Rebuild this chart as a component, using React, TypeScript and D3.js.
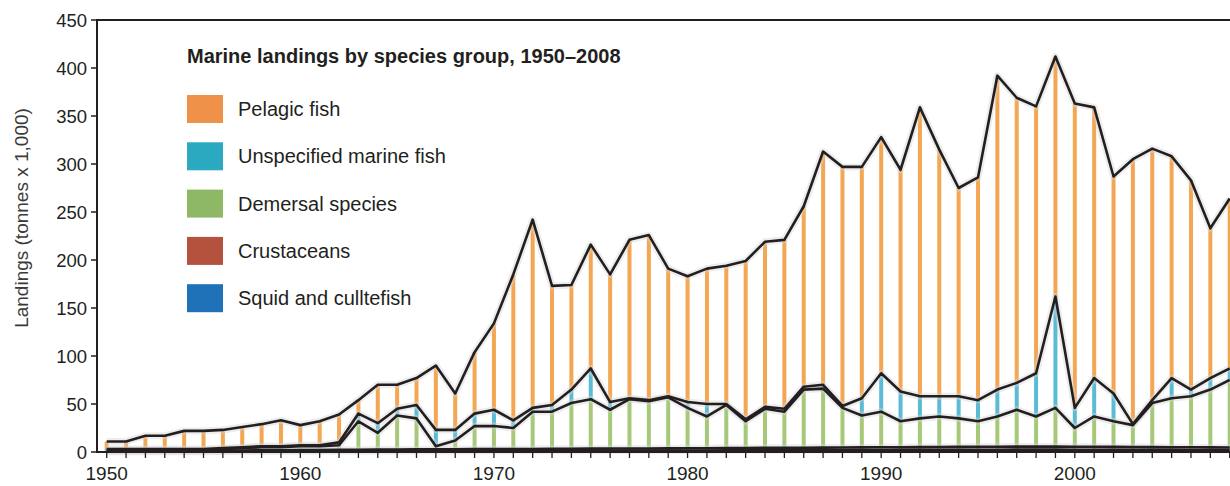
import React, { useEffect, useRef } from 'react';
import * as d3 from 'd3';

const years = d3.range(1950, 2009);

// thousand tonnes
const pelagic = [
  8, 8, 14, 14, 19, 19, 19, 21, 23, 27,
  21, 25, 29, 14, 40, 25, 28, 67, 38, 64,
  90, 152, 196, 124, 109, 129, 133, 165, 172, 133,
  131, 141, 144, 165, 172, 176, 188, 243, 249, 241,
  246, 231, 301, 257, 217, 232, 327, 297, 278, 250,
  317, 282, 226, 276, 262, 231, 218, 156, 177,
];
const unspecified = [
  1, 1, 1, 1, 1, 1, 1, 1, 1, 1,
  1, 1, 3, 8, 10, 7, 14, 17, 11, 13,
  17, 8, 4, 7, 14, 32, 8, 1, 1, 1,
  6, 13, 1, 2, 2, 3, 3, 4, 2, 18,
  40, 31, 23, 21, 23, 22, 28, 28, 45, 116,
  21, 40, 29, 1, 3, 21, 7, 12, 12,
];
const demersal = [
  1.2, 1.2, 1.2, 1.2, 1.1, 1.1, 1.9, 2.5, 3.2, 3.1,
  3.9, 3.9, 4.7, 29.6, 17.5, 35.4, 32.3, 3.2, 9.2, 24,
  24, 21.8, 38.8, 38.7, 47.6, 51.5, 40.4, 51.3, 49.3, 53.2,
  42.1, 33.1, 44.9, 27.9, 40.7, 37.7, 60.5, 61.4, 41.3, 33.2,
  37.1, 27, 29.9, 31.8, 29.7, 26.6, 31.6, 38.4, 31.4, 40.4,
  19.6, 31.6, 26.7, 22.8, 45.9, 51, 53.1, 60.2, 70.3,
];
const crustaceans = [
  0.5, 0.5, 0.5, 0.5, 0.6, 0.6, 0.7, 1.0, 1.2, 1.3,
  1.4, 1.4, 1.5, 1.6, 1.6, 1.7, 1.7, 1.8, 1.8, 1.9,
  1.9, 2.0, 2.0, 2.0, 2.1, 2.1, 2.2, 2.2, 2.2, 2.3,
  2.3, 2.3, 2.4, 2.4, 2.5, 2.5, 2.6, 2.6, 2.7, 2.7,
  2.8, 2.8, 2.9, 2.9, 3.0, 3.0, 3.0, 3.1, 3.1, 3.1,
  3.0, 3.0, 3.0, 2.9, 2.9, 2.8, 2.8, 2.7, 2.7,
];
const squid = [
  0.3, 0.3, 0.3, 0.3, 0.3, 0.3, 0.4, 0.5, 0.6, 0.6,
  0.7, 0.7, 0.8, 0.8, 0.9, 0.9, 1.0, 1.0, 1.0, 1.1,
  1.1, 1.2, 1.2, 1.3, 1.3, 1.4, 1.4, 1.5, 1.5, 1.5,
  1.6, 1.6, 1.7, 1.7, 1.8, 1.8, 1.9, 2.0, 2.0, 2.1,
  2.1, 2.2, 2.2, 2.3, 2.3, 2.4, 2.4, 2.5, 2.5, 2.5,
  2.4, 2.4, 2.3, 2.3, 2.2, 2.2, 2.1, 2.1, 2.0,
];

const legendNames = ['Pelagic fish', 'Unspecified marine fish', 'Demersal species', 'Crustaceans', 'Squid and culltefish'];
const legendColors = ['#F0914A', '#2AA9C1', '#8FB866', '#B5523D', '#1F71B8'];
// stacking order, bottom first
const stackKeys = ['squid', 'crustaceans', 'demersal', 'unspecified', 'pelagic'];
const barColors: Record<string, string> = {
  squid: '#1F71B8',
  crustaceans: '#B5523D',
  demersal: '#9CC36A',
  unspecified: '#48B4CE',
  pelagic: '#F29C40',
};
const yTicks = d3.range(0, 451, 50);
const xLabelYears = [1950, 1960, 1970, 1980, 1990, 2000];

const W = 1230;
const H = 486;
const FONT = '"Liberation Sans", Arial, Helvetica, sans-serif';
const INK = '#231F20';

const App: React.FC = () => {
  const svgRef = useRef<SVGSVGElement>(null);

  useEffect(() => {
    if (!svgRef.current) return;
    d3.select(svgRef.current).selectAll('*').remove();

    const svg = d3.select(svgRef.current).attr('width', W).attr('height', H);

    const left = 97;
    const top = 20;
    const bottom = 452;

    const x = d3.scaleLinear().domain([1950, 2008]).range([106.7, 1229.7]);
    const y = d3.scaleLinear().domain([0, 450]).range([bottom, top]);

    const rows = years.map((yr, i) => ({
      year: yr,
      squid: squid[i],
      crustaceans: crustaceans[i],
      demersal: demersal[i],
      unspecified: unspecified[i],
      pelagic: pelagic[i],
    }));

    const stack = d3.stack<any>().keys(stackKeys);
    const layers = stack(rows);

    // Thin vertical bars for each year and layer
    const barW = 4;
    layers.forEach(layer => {
      svg
        .append('g')
        .selectAll('rect')
        .data(layer)
        .enter()
        .append('rect')
        .attr('x', d => x(d.data.year) - barW / 2)
        .attr('y', d => y(d[1]))
        .attr('width', barW)
        .attr('height', d => Math.max(0, y(d[0]) - y(d[1])))
        .attr('fill', barColors[layer.key])
        .attr('opacity', 0.9);
    });

    // Lines along the top of every layer
    const line = d3
      .line<any>()
      .x(d => x(d.data.year))
      .y(d => y(d[1]));

    layers.forEach(layer => {
      svg
        .append('path')
        .datum(layer)
        .attr('d', line)
        .attr('fill', 'none')
        .attr('stroke', '#d8d8d8')
        .attr('stroke-opacity', 0.45)
        .attr('stroke-width', 7)
        .attr('stroke-linejoin', 'round');
    });
    layers.forEach(layer => {
      svg
        .append('path')
        .datum(layer)
        .attr('d', line)
        .attr('fill', 'none')
        .attr('stroke', INK)
        .attr('stroke-width', 2.6)
        .attr('stroke-linejoin', 'round');
    });

    // Frame: left axis, top rule, bottom axis
    svg
      .append('line')
      .attr('x1', left).attr('x2', W)
      .attr('y1', top).attr('y2', top)
      .attr('stroke', INK).attr('stroke-width', 2.2);
    svg
      .append('line')
      .attr('x1', left).attr('x2', left)
      .attr('y1', top - 1).attr('y2', bottom + 1)
      .attr('stroke', INK).attr('stroke-width', 2);
    svg
      .append('line')
      .attr('x1', left - 1).attr('x2', W)
      .attr('y1', bottom).attr('y2', bottom)
      .attr('stroke', INK).attr('stroke-width', 2.2);

    // y ticks and labels
    const yAxis = svg.append('g');
    yAxis
      .selectAll('line')
      .data(yTicks)
      .enter()
      .append('line')
      .attr('x1', left - 6).attr('x2', left)
      .attr('y1', d => y(d)).attr('y2', d => y(d))
      .attr('stroke', INK).attr('stroke-width', 1.5);
    yAxis
      .selectAll('text')
      .data(yTicks)
      .enter()
      .append('text')
      .attr('x', 87)
      .attr('y', d => y(d))
      .attr('dy', '0.36em')
      .attr('text-anchor', 'end')
      .attr('font-family', FONT)
      .attr('font-size', '18.5px')
      .attr('fill', INK)
      .text(d => d);

    // x ticks every year, labels every decade
    const xAxis = svg.append('g');
    xAxis
      .selectAll('line')
      .data(years)
      .enter()
      .append('line')
      .attr('x1', d => x(d)).attr('x2', d => x(d))
      .attr('y1', bottom).attr('y2', bottom + 6)
      .attr('stroke', INK).attr('stroke-width', 1.3);
    xAxis
      .selectAll('text')
      .data(xLabelYears)
      .enter()
      .append('text')
      .attr('x', d => x(d))
      .attr('y', 480)
      .attr('text-anchor', 'middle')
      .attr('font-family', FONT)
      .attr('font-size', '19px')
      .attr('fill', INK)
      .text(d => d);

    // y axis title
    svg
      .append('text')
      .attr('transform', 'translate(28, 218) rotate(-90)')
      .attr('text-anchor', 'middle')
      .attr('font-family', FONT)
      .attr('font-size', '19px')
      .attr('fill', '#3a3a3a')
      .text('Landings (tonnes x 1,000)');

    // Title and legend
    svg
      .append('text')
      .attr('x', 187)
      .attr('y', 63)
      .attr('font-family', FONT)
      .attr('font-size', '20px')
      .attr('font-weight', 'bold')
      .attr('fill', INK)
      .text('Marine landings by species group, 1950–2008');

    const legend = svg
      .selectAll('.legend')
      .data(legendNames)
      .enter()
      .append('g')
      .attr('class', 'legend')
      .attr('transform', (d, i) => `translate(187, ${95 + i * 47.3})`);

    legend
      .append('rect')
      .attr('width', 36)
      .attr('height', 28)
      .attr('fill', (d, i) => legendColors[i]);

    legend
      .append('text')
      .attr('x', 51)
      .attr('y', 21)
      .attr('font-family', FONT)
      .attr('font-size', '20px')
      .attr('fill', INK)
      .text(d => d);
  }, []);

  return <svg ref={svgRef} style={{ position: 'absolute', left: 0, top: 0, background: '#fff' }} />;
};

export default App;
